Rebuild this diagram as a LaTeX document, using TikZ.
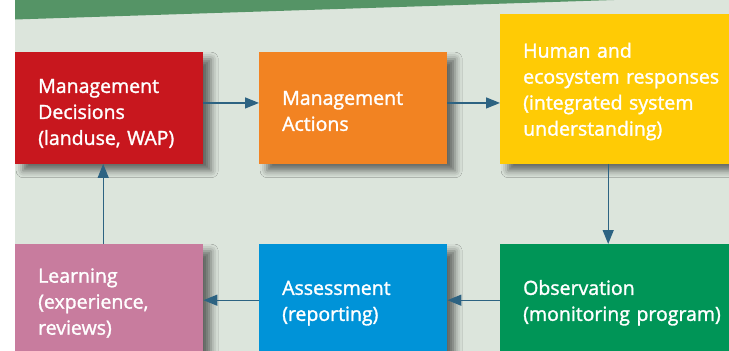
\documentclass[tikz,border=0pt]{standalone}
\usepackage{fontspec}
\setmainfont{Open Sans}[FakeBold=1.5]
\usetikzlibrary{arrows.meta,shadows.blur}
\definecolor{bggray}{HTML}{DCE5DC}
\definecolor{bandgreen}{HTML}{559466}
\definecolor{mgred}{HTML}{C8171E}
\definecolor{mgorange}{HTML}{F28322}
\definecolor{mgyellow}{HTML}{FFCB05}
\definecolor{mgpink}{HTML}{C87C9E}
\definecolor{mgblue}{HTML}{0093D8}
\definecolor{mggreen}{HTML}{009557}
\definecolor{arrowblue}{HTML}{2D6382}
\definecolor{shadowteal}{HTML}{3F6E78}
\tikzset{
	stepbox/.style={anchor=north west, inner xsep=23pt, inner ysep=0pt, align=left,
		text=white, font=\fontsize{19.5}{26}\selectfont,
		execute at begin node={\rule{0pt}{20pt}},
		blur shadow={shadow xshift=8pt, shadow yshift=-7pt, shadow blur radius=7pt,
			shadow opacity=55, fill=shadowteal}},
	flow/.style={-{Triangle[length=14pt,width=11pt]}, line width=1.3pt, draw=arrowblue}
}

\begin{document}
\begin{tikzpicture}[x=1pt, y=-1pt]
		%%%%% START %%%%%
		
		\useasboundingbox (0, 0) rectangle (729, 351);
		\clip (0, 0) rectangle (729, 351);
		
		\fill[bggray] (15, 0) rectangle (729, 351);
		\fill[bandgreen] (15, 0) -- (614, 0) -- (15, 19.5) -- cycle;
		
		% top row
		\node[stepbox, fill=mgred, minimum width=188pt, minimum height=111.5pt, text width=142pt, execute at begin node={\rule{0pt}{25pt}}] (decide) at (15, 52) {Management\\Decisions\\(landuse, WAP)};
		\node[stepbox, fill=mgorange, minimum width=188pt, minimum height=111.5pt, text width=142pt] (act) at (259, 52) {Management\\Actions};
		\node[stepbox, fill=mgyellow, minimum width=260pt, minimum height=149.5pt, text width=214pt] (respond) at (500, 14) {Human and\\ecosystem responses\\(integrated system\\understanding)};
		
		% bottom row
		\node[stepbox, fill=mgpink, minimum width=188pt, minimum height=112pt, text width=142pt] (learn) at (15, 244) {Learning\\(experience,\\reviews)};
		\node[stepbox, fill=mgblue, minimum width=188pt, minimum height=112pt, text width=142pt] (assess) at (259, 244) {Assessment\\(reporting)};
		\node[stepbox, fill=mggreen, minimum width=260pt, minimum height=112pt, text width=214pt] (observe) at (500, 244) {Observation\\(monitoring program)};
		
		% cycle
		\draw[flow] ([yshift=5pt]decide.east) -- ([yshift=5pt]act.west);
		\draw[flow] ([yshift=5pt]act.east) -- ([yshift=5pt]act.east -| respond.west);
		\draw[flow] ([xshift=-22pt]respond.south) -- ([xshift=-22pt]observe.north);
		\draw[flow] (observe.west) -- (assess.east);
		\draw[flow] (assess.west) -- (learn.east);
		\draw[flow] ([xshift=-6pt]learn.north) -- ([xshift=-6pt]decide.south);
		
		%%%%% END %%%%%
	\end{tikzpicture}
\end{document}
